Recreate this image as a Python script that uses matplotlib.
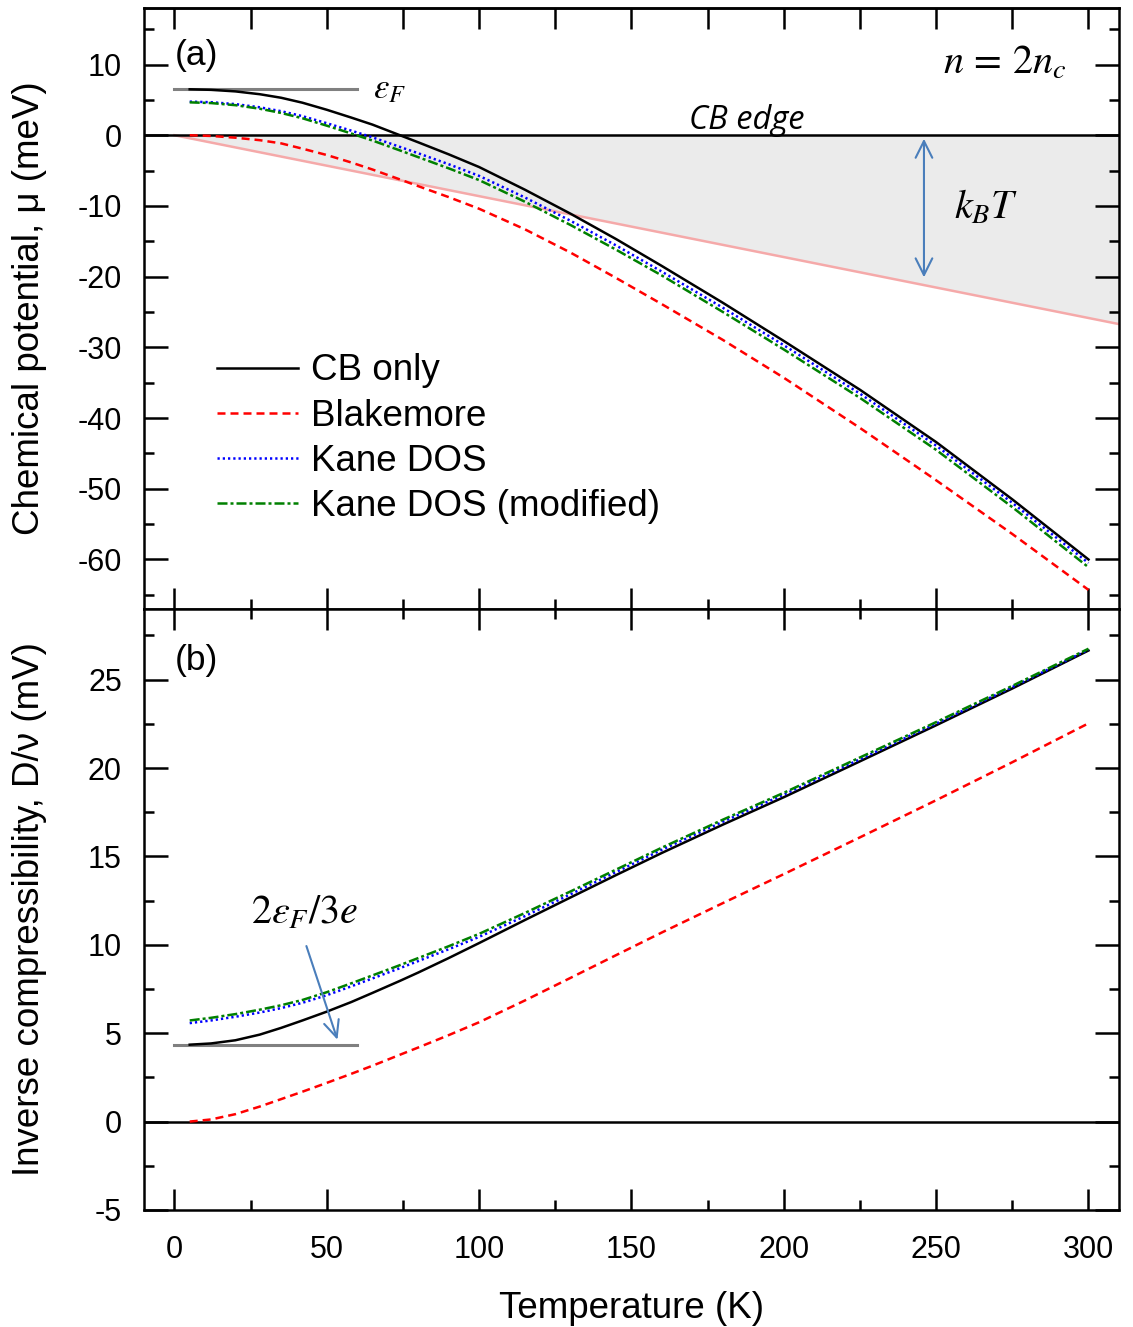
import matplotlib
matplotlib.use('Agg')
import matplotlib.pyplot as plt
from matplotlib.ticker import MultipleLocator

plt.rcParams['font.family'] = ['Liberation Sans', 'DejaVu Sans']
plt.rcParams['mathtext.fontset'] = 'stix'
plt.rcParams['axes.unicode_minus'] = False

# ---------------- data ----------------
T = [5, 12, 20, 28, 35, 42, 50, 58, 65, 74, 80, 90, 100, 115, 130, 145, 160, 180, 200, 225, 250, 275, 300]

# (a) chemical potential (meV)
mu_cb = [6.5, 6.42, 6.2, 5.8, 5.3, 4.6, 3.6, 2.5, 1.5, 0.0, -1.0, -2.7, -4.5, -7.7, -11.1,
         -14.7, -18.5, -23.7, -29.1, -36.0, -43.4, -51.5, -60.0]
mu_blake = [0.0, -0.1, -0.35, -0.7, -1.15, -1.9, -2.8, -3.85, -4.85, -6.25, -7.2, -8.75, -10.4,
            -13.3, -16.6, -20.2, -23.9, -28.95, -34.3, -41.4, -48.8, -56.4, -64.3]
mu_kane = [4.75, 4.67, 4.4, 3.95, 3.4, 2.7, 1.7, 0.65, -0.3, -1.65, -2.55, -4.1, -5.75, -8.8,
           -12.1, -15.6, -19.3, -24.4, -29.7, -36.55, -43.9, -52.0, -60.5]
mu_kane_mod = [4.65, 4.55, 4.25, 3.75, 3.15, 2.4, 1.35, 0.25, -0.75, -2.15, -3.1, -4.68, -6.35,
               -9.4, -12.7, -16.2, -19.85, -25.0, -30.3, -37.15, -44.5, -52.6, -61.1]

# (b) inverse compressibility D/nu (mV)
d_cb = [4.35, 4.42, 4.6, 4.92, 5.3, 5.72, 6.22, 6.76, 7.28, 7.96, 8.43, 9.25, 10.1, 11.4, 12.68,
        13.95, 15.2, 16.8, 18.35, 20.38, 22.42, 24.5, 26.65]
d_blake = [0.0, 0.12, 0.42, 0.85, 1.27, 1.69, 2.19, 2.7, 3.16, 3.78, 4.19, 4.89, 5.62, 6.85,
           8.13, 9.42, 10.7, 12.36, 14.0, 16.08, 18.18, 20.33, 22.53]
d_kane = [5.57, 5.72, 5.93, 6.17, 6.42, 6.72, 7.15, 7.65, 8.1, 8.68, 9.08, 9.75, 10.45, 11.62,
          12.86, 14.12, 15.38, 16.96, 18.5, 20.5, 22.52, 24.58, 26.7]
d_kane_mod = [5.72, 5.87, 6.08, 6.33, 6.58, 6.88, 7.32, 7.82, 8.27, 8.85, 9.25, 9.92, 10.62, 11.8,
              13.02, 14.26, 15.5, 17.08, 18.6, 20.6, 22.6, 24.65, 26.75]

labels = ['CB only', 'Blakemore', 'Kane DOS', 'Kane DOS (modified)']

# reference lines
kbt_T = [0, 310]
kbt_mu = [0.0, -26.71]
ef_T = [0, 60]
ef_mu = [6.5, 6.5]
ef_d = [4.35, 4.35]

# ---------------- figure ----------------
fig = plt.figure(figsize=(11.33, 13.27), dpi=100)
L, W = 0.1271, 0.8605
ax1 = fig.add_axes([L, 0.5411, W, 0.4529])
ax2 = fig.add_axes([L, 0.0882, W, 0.4529], sharex=ax1)

styles = [
    dict(color='black', linestyle='-'),
    dict(color='#ff0000', dashes=(3.2, 2.0)),
    dict(color='#0000ff', dashes=(0.9, 1.2)),
    dict(color='#008000', dashes=(4.0, 1.2, 1.2, 1.2)),
]
lw = 1.8
arrow_col = '#4a7ebb'
mathfs = 29

# ---- panel (a)
ax1.fill_between(kbt_T, kbt_mu, [0, 0], color='#ebebeb', zorder=0, lw=0)
ax1.plot(kbt_T, kbt_mu, color='#f5a9a9', lw=1.8, zorder=1)
ax1.axhline(0, color='black', lw=1.8, zorder=2)
ax1.plot(ef_T, ef_mu, color='#808080', lw=2.2, zorder=2)
series_a = [mu_cb, mu_blake, mu_kane, mu_kane_mod]
handles = []
for y, st, lab in zip(series_a, styles, labels):
    h, = ax1.plot(T, y, lw=lw, label=lab, zorder=3, **st)
    handles.append(h)

ax1.text(65.3, 6.6, r'$\varepsilon_F$', fontsize=25, va='center', ha='left')
ax1.text(187.7, 0.9, 'CB edge', fontsize=23.5, style='italic', family='Open Sans',
         ha='center', va='baseline')
ax1.text(272.5, 10.3, r'$n\,=\,2n_c$', fontsize=mathfs, ha='center', va='center')
ax1.text(266.5, -10.2, r'$k_BT$', fontsize=mathfs, ha='center', va='center')
ax1.annotate('', xy=(246, -0.5), xytext=(246, -20.1),
             arrowprops=dict(arrowstyle='<->,head_length=1.2,head_width=0.6',
                             color=arrow_col, lw=1.5, shrinkA=0, shrinkB=0))
ax1.text(0, 11.3, '(a)', fontsize=25.5, ha='left', va='center')

leg = ax1.legend(handles=handles, loc='center left', bbox_to_anchor=(0.0749, 0.283),
                 frameon=False, fontsize=26.5, handlelength=2.2, handletextpad=0.35,
                 labelspacing=0.28, borderpad=0, borderaxespad=0)

ax1.set_ylim(-67, 18)
ax1.set_ylabel('Chemical potential, μ (meV)', fontsize=26.5)

# ---- panel (b)
ax2.axhline(0, color='black', lw=1.8, zorder=2)
ax2.plot(ef_T, ef_d, color='#808080', lw=2.2, zorder=2)
series_b = [d_cb, d_blake, d_kane, d_kane_mod]
for y, st in zip(series_b, styles):
    ax2.plot(T, y, lw=lw, zorder=3, **st)
ax2.text(42.7, 11.8, r'$2\varepsilon_F/3e$', fontsize=mathfs, ha='center', va='center')
ax2.annotate('', xy=(53.5, 4.63), xytext=(43.3, 9.93),
             arrowprops=dict(arrowstyle='->,head_length=1.2,head_width=0.55',
                             color=arrow_col, lw=1.5, shrinkA=0, shrinkB=0))
ax2.text(0, 26.1, '(b)', fontsize=25.5, ha='left', va='center')
ax2.set_ylim(-5, 29)
ax2.set_xlim(-10, 310)
ax2.set_ylabel('Inverse compressibility, D/ν (mV)', fontsize=26.5)
ax2.set_xlabel('Temperature (K)', fontsize=26.5, labelpad=19)

for ax in (ax1, ax2):
    ax.yaxis.set_label_coords(-0.1, 0.5)

# ---- ticks & spines
for ax in (ax1, ax2):
    for s in ax.spines.values():
        s.set_linewidth(1.8)
    ax.xaxis.set_major_locator(MultipleLocator(50))
    ax.xaxis.set_minor_locator(MultipleLocator(25))
    ax.tick_params(which='both', direction='in', left=True, right=True,
                   bottom=True, top=True, width=1.8, labelsize=22, pad=16)
    ax.tick_params(which='major', length=15)
    ax.tick_params(which='minor', length=7.5)
ax2.tick_params(axis='x', pad=18)

ax1.yaxis.set_major_locator(MultipleLocator(10))
ax1.yaxis.set_minor_locator(MultipleLocator(5))
ax2.yaxis.set_major_locator(MultipleLocator(5))
ax2.yaxis.set_minor_locator(MultipleLocator(2.5))
ax1.tick_params(axis='x', labelbottom=False, top=False, which='both')
ax1.tick_params(axis='y', which='major', length=17)
ax2.tick_params(axis='y', which='major', length=17)

# top edge of panel (a): equal-length ticks every 25 K
sec = ax1.secondary_xaxis('top')
sec.xaxis.set_major_locator(MultipleLocator(25))
sec.tick_params(direction='in', length=15, width=1.8, labeltop=False)
sec.spines['top'].set_linewidth(1.8)

fig.savefig('out.png', dpi=100)
